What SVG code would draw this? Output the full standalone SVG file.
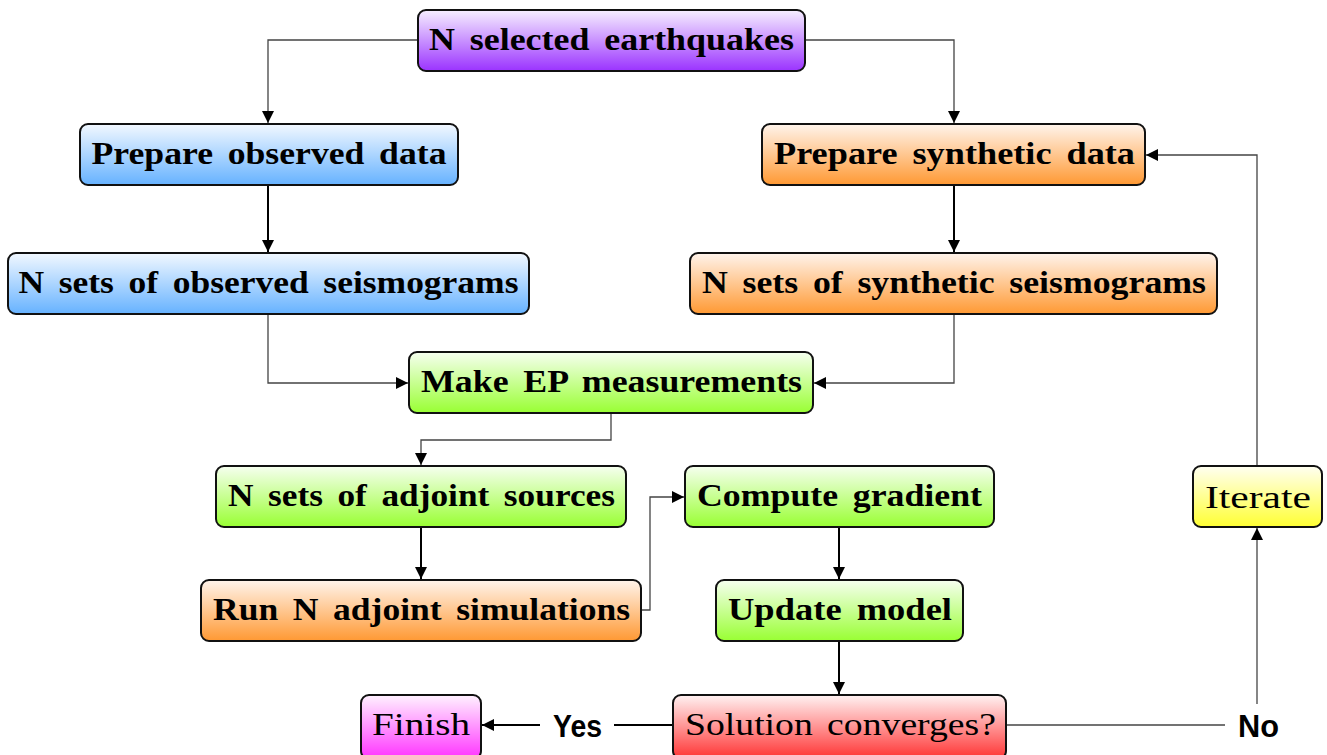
<svg xmlns="http://www.w3.org/2000/svg" width="1327" height="755" viewBox="0 0 1327 755">
<defs>
<linearGradient id="gPurple" x1="0" y1="0" x2="0" y2="1"><stop offset="0" stop-color="#f6efff"/><stop offset="1" stop-color="#9b33ff"/></linearGradient>
<linearGradient id="gBlue" x1="0" y1="0" x2="0" y2="1"><stop offset="0" stop-color="#f2f8ff"/><stop offset="1" stop-color="#66b2ff"/></linearGradient>
<linearGradient id="gOrange" x1="0" y1="0" x2="0" y2="1"><stop offset="0" stop-color="#fff4ec"/><stop offset="1" stop-color="#ff9933"/></linearGradient>
<linearGradient id="gGreen" x1="0" y1="0" x2="0" y2="1"><stop offset="0" stop-color="#f6fff0"/><stop offset="1" stop-color="#99ff33"/></linearGradient>
<linearGradient id="gRed" x1="0" y1="0" x2="0" y2="1"><stop offset="0" stop-color="#fff2f2"/><stop offset="1" stop-color="#ff3333"/></linearGradient>
<linearGradient id="gMagenta" x1="0" y1="0" x2="0" y2="1"><stop offset="0" stop-color="#fff2ff"/><stop offset="1" stop-color="#ff33ff"/></linearGradient>
<linearGradient id="gYellow" x1="0" y1="0" x2="0" y2="1"><stop offset="0" stop-color="#fffff2"/><stop offset="1" stop-color="#ffff33"/></linearGradient>
<marker id="arr" viewBox="0 0 10 10" refX="10" refY="5" markerUnits="userSpaceOnUse" markerWidth="13" markerHeight="12" orient="auto"><path d="M0,0 L10,5 L0,10 z" fill="#000"/></marker>
</defs>
<style>
.box{stroke:#111;stroke-width:2}
.t{font-family:"Liberation Serif","DejaVu Serif",serif;font-weight:bold;font-size:31px;word-spacing:5px;fill:#000;text-anchor:middle}
.tr{font-family:"Liberation Serif","DejaVu Serif",serif;font-weight:normal;font-size:31px;word-spacing:4px;fill:#000;text-anchor:middle}
.lbl{font-family:"Liberation Sans","DejaVu Sans",sans-serif;font-weight:bold;font-size:32px;fill:#000;text-anchor:middle}
.thin{fill:none;stroke:#444;stroke-width:1.3}
.thick{fill:none;stroke:#000;stroke-width:2}
</style>
<g id="connectors">
<path class="thin" d="M418,40 H268 V123" marker-end="url(#arr)"/>
<path class="thin" d="M805,40 H954 V123" marker-end="url(#arr)"/>
<path class="thick" d="M268,185 V252" marker-end="url(#arr)"/>
<path class="thick" d="M954,185 V252" marker-end="url(#arr)"/>
<path class="thin" d="M268,314 V383 H408" marker-end="url(#arr)"/>
<path class="thin" d="M954,314 V383 H814" marker-end="url(#arr)"/>
<path class="thin" d="M611,413 V440 H421 V465" marker-end="url(#arr)"/>
<path class="thick" d="M421,527 V579" marker-end="url(#arr)"/>
<path class="thin" d="M641,610 H650 V497 H684" marker-end="url(#arr)"/>
<path class="thick" d="M839,527 V579" marker-end="url(#arr)"/>
<path class="thick" d="M839,641 V694" marker-end="url(#arr)"/>
<path class="thick" d="M673,725 H614"/>
<path class="thick" d="M540,725 H482" marker-end="url(#arr)"/>
<path class="thin" d="M1006,725 H1225"/>
<path class="thin" d="M1257,704 V528" marker-end="url(#arr)"/>
<path class="thin" d="M1257,466 V155 H1146" marker-end="url(#arr)"/>
<text class="lbl" x="577.5" y="737" textLength="49" lengthAdjust="spacingAndGlyphs">Yes</text>
<text class="lbl" x="1258.5" y="737" textLength="41" lengthAdjust="spacingAndGlyphs">No</text>
</g>
<g id="n1"><rect class="box" x="418" y="10" width="387" height="61" rx="8" fill="url(#gPurple)"/><text class="t" x="611.5" y="49.5" textLength="365" lengthAdjust="spacingAndGlyphs">N selected earthquakes</text></g>
<g id="n2"><rect class="box" x="80" y="124" width="378" height="61" rx="8" fill="url(#gBlue)"/><text class="t" x="269" y="163.5" textLength="355" lengthAdjust="spacingAndGlyphs">Prepare observed data</text></g>
<g id="n3"><rect class="box" x="8" y="253" width="521" height="61" rx="8" fill="url(#gBlue)"/><text class="t" x="268.5" y="292.5" textLength="500" lengthAdjust="spacingAndGlyphs">N sets of observed seismograms</text></g>
<g id="n4"><rect class="box" x="762" y="124" width="383" height="61" rx="8" fill="url(#gOrange)"/><text class="t" x="954.5" y="163.5" textLength="361" lengthAdjust="spacingAndGlyphs">Prepare synthetic data</text></g>
<g id="n5"><rect class="box" x="690" y="253" width="527" height="61" rx="8" fill="url(#gOrange)"/><text class="t" x="954" y="292.5" textLength="504" lengthAdjust="spacingAndGlyphs">N sets of synthetic seismograms</text></g>
<g id="n6"><rect class="box" x="409" y="352" width="404" height="61" rx="8" fill="url(#gGreen)"/><text class="t" x="611.5" y="391.5" textLength="381" lengthAdjust="spacingAndGlyphs">Make EP measurements</text></g>
<g id="n7"><rect class="box" x="216" y="466" width="410" height="61" rx="8" fill="url(#gGreen)"/><text class="t" x="421.5" y="505.5" textLength="387" lengthAdjust="spacingAndGlyphs">N sets of adjoint sources</text></g>
<g id="n8"><rect class="box" x="201" y="580" width="440" height="61" rx="8" fill="url(#gOrange)"/><text class="t" x="421.5" y="619.5" textLength="417" lengthAdjust="spacingAndGlyphs">Run N adjoint simulations</text></g>
<g id="n9"><rect class="box" x="685" y="466" width="309" height="61" rx="8" fill="url(#gGreen)"/><text class="t" x="839.5" y="505.5" textLength="285" lengthAdjust="spacingAndGlyphs">Compute gradient</text></g>
<g id="n10"><rect class="box" x="716" y="580" width="247" height="61" rx="8" fill="url(#gGreen)"/><text class="t" x="840" y="619.5" textLength="224" lengthAdjust="spacingAndGlyphs">Update model</text></g>
<g id="n11"><rect class="box" x="673" y="695" width="333" height="64" rx="8" fill="url(#gRed)"/><text class="tr" x="840.5" y="735" textLength="311" lengthAdjust="spacingAndGlyphs">Solution converges?</text></g>
<g id="n12"><rect class="box" x="361" y="695" width="120" height="64" rx="8" fill="url(#gMagenta)"/><text class="tr" x="421" y="735" textLength="98" lengthAdjust="spacingAndGlyphs">Finish</text></g>
<g id="n13"><rect class="box" x="1193" y="466" width="129" height="61" rx="8" fill="url(#gYellow)"/><text class="tr" x="1258" y="508" textLength="106" lengthAdjust="spacingAndGlyphs">Iterate</text></g>
</svg>
